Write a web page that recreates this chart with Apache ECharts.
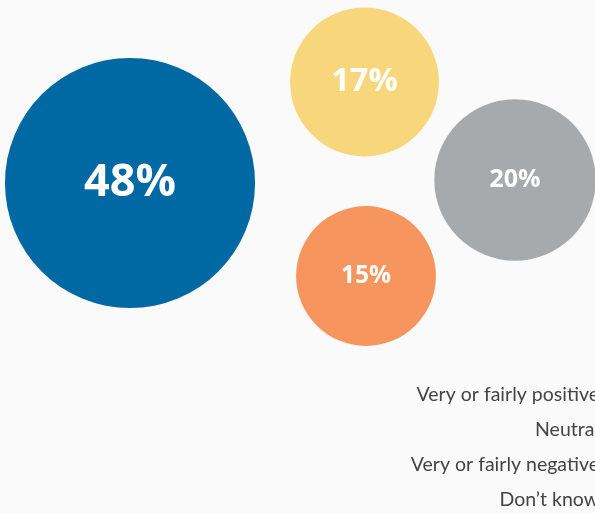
<!DOCTYPE html>
<html><head><meta charset="utf-8">
<script src="https://cdn.jsdelivr.net/npm/echarts@6/dist/echarts.min.js"></script>
<style>html,body{margin:0;padding:0;background:#fafafa}#c{width:595px;height:513px}</style>
</head><body><div id="c"></div>
<script>
const categories = ['Very or fairly positive', 'Neutral', 'Very or fairly negative', 'Don\u2019t know'];
const values = [48, 17, 15, 20];
// bubble-layout coordinates (packed layout positions)
const bubbleX = [130, 364.5, 366, 515];
const bubbleY = [183, 82, 276, 180];

const colors = ['#0069A4', '#F8D67B', '#F7955E', '#A7AAAD'];
const labelSizes = [45, 32.5, 24.5, 25];

const chart = echarts.init(document.getElementById('c'), null, {renderer: 'canvas'});
const data = values.map((v, i) => ({
  name: categories[i],
  value: [bubbleX[i], bubbleY[i], v],
  itemStyle: {color: colors[i], opacity: 1},
  label: {fontSize: labelSizes[i]}
}));

chart.setOption({
  backgroundColor: '#fafafa',
  animation: false,
  grid: {left: 0, right: 0, top: 0, bottom: 0},
  xAxis: {type: 'value', min: 0, max: 595, show: false},
  yAxis: {type: 'value', min: 0, max: 513, inverse: true, show: false},
  series: [{
    type: 'scatter',
    symbol: 'circle',
    symbolSize: val => 36.1 * Math.sqrt(val[2]),
    data: data,
    label: {
      show: true,
      position: 'inside',
      color: '#ffffff',
      fontFamily: 'Open Sans',
      fontWeight: 'bold',
      formatter: p => p.value[2] + '%'
    },
    emphasis: {disabled: true}
  }],
  graphic: categories.map((c, i) => ({
    type: 'text',
    x: 599,
    y: 395 + i * 35,
    style: {
      text: c,
      fill: '#444444',
      font: '19.5px Lato',
      align: 'right',
      verticalAlign: 'middle'
    }
  }))
});
</script></body></html>
